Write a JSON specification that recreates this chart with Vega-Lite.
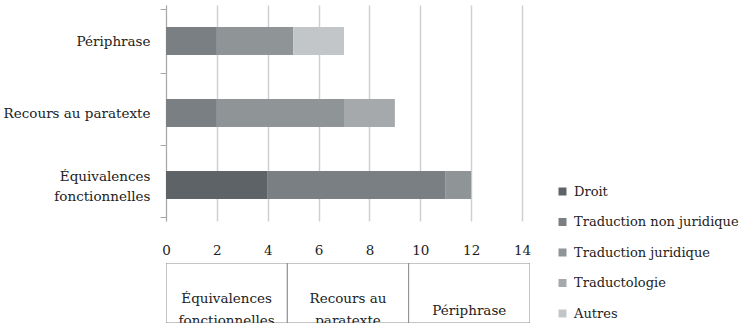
{
  "$schema": "https://vega.github.io/schema/vega-lite/v6.json",
  "background": "white",
  "padding": {"left": 0, "top": -2, "right": 0, "bottom": 0},
  "config": {"view": {"stroke": null}, "font": "DejaVu Serif"},
  "spacing": 6,
  "vconcat": [
    {
      "width": 356,
      "height": 216,
      "data": {
        "values": [
          {"categorie": "Périphrase", "source": "Traduction non juridique", "ordre": 2, "valeur": 2},
          {"categorie": "Périphrase", "source": "Traduction juridique", "ordre": 3, "valeur": 3},
          {"categorie": "Périphrase", "source": "Autres", "ordre": 5, "valeur": 2},
          {"categorie": "Recours au paratexte", "source": "Traduction non juridique", "ordre": 2, "valeur": 2},
          {"categorie": "Recours au paratexte", "source": "Traduction juridique", "ordre": 3, "valeur": 5},
          {"categorie": "Recours au paratexte", "source": "Traductologie", "ordre": 4, "valeur": 2},
          {"categorie": "Équivalences fonctionnelles", "source": "Droit", "ordre": 1, "valeur": 4},
          {"categorie": "Équivalences fonctionnelles", "source": "Traduction non juridique", "ordre": 2, "valeur": 7},
          {"categorie": "Équivalences fonctionnelles", "source": "Traduction juridique", "ordre": 3, "valeur": 1}
        ]
      },
      "mark": {"type": "bar", "size": 28},
      "encoding": {
        "y": {
          "field": "categorie",
          "type": "nominal",
          "sort": ["Périphrase", "Recours au paratexte", "Équivalences fonctionnelles"],
          "title": null,
          "axis": {
            "minExtent": 166,
            "maxExtent": 166,
            "labelFont": "DejaVu Serif",
            "labelFontSize": 13.5,
            "labelColor": "#222222",
            "labelPadding": 10,
            "labelLineHeight": 20,
            "labelExpr": "datum.label == 'Équivalences fonctionnelles' ? ['Équivalences', 'fonctionnelles'] : datum.label",
            "labelOffset": {"condition": {"test": "datum.label == 'Équivalences fonctionnelles'", "value": -9}, "value": 0},
            "tickBand": "extent",
            "tickSize": 6,
            "tickColor": "#a8a8a8",
            "domainColor": "#a8a8a8",
            "domainWidth": 1
          }
        },
        "x": {
          "field": "valeur",
          "type": "quantitative",
          "stack": "zero",
          "scale": {"domain": [0, 14], "nice": false},
          "title": null,
          "axis": {
            "values": [0, 2, 4, 6, 8, 10, 12, 14],
            "grid": true,
            "gridColor": "#cdd0d2",
            "gridWidth": 1.5,
            "domain": false,
            "ticks": false,
            "labelFlush": false,
            "labelFont": "DejaVu Serif",
            "labelFontSize": 13.5,
            "labelColor": "#222222",
            "labelPadding": 22
          }
        },
        "color": {
          "field": "source",
          "type": "nominal",
          "scale": {
            "domain": ["Droit", "Traduction non juridique", "Traduction juridique", "Traductologie", "Autres"],
            "range": ["#5e6367", "#7a7f83", "#8f9497", "#a5a9ac", "#c3c6c8"]
          },
          "legend": {
            "title": null,
            "orient": "none",
            "legendX": 390,
            "legendY": 180,
            "symbolType": "square",
            "symbolSize": 64,
            "symbolStrokeWidth": 0,
            "labelFont": "DejaVu Serif",
            "labelFontSize": 13,
            "labelLimit": 300,
            "labelColor": "#222222",
            "labelOffset": 5,
            "rowPadding": 16.5
          }
        },
        "order": {"field": "ordre", "type": "quantitative"}
      }
    },
    {
      "width": 364,
      "height": 60,
      "data": {
        "values": [
          {"categorie": "Équivalences fonctionnelles", "texte": "Équivalences|fonctionnelles", "lignes": 2},
          {"categorie": "Recours au paratexte", "texte": "Recours au|paratexte", "lignes": 2},
          {"categorie": "Périphrase", "texte": "Périphrase", "lignes": 1}
        ]
      },
      "encoding": {
        "x": {
          "field": "categorie",
          "type": "nominal",
          "sort": ["Équivalences fonctionnelles", "Recours au paratexte", "Périphrase"],
          "scale": {"paddingInner": 0, "paddingOuter": 0},
          "axis": null
        }
      },
      "layer": [
        {"mark": {"type": "rect", "fill": "white", "stroke": "#8c8c8c", "strokeWidth": 1, "clip": true}},
        {
          "transform": [{"filter": "datum.lignes == 2"}],
          "mark": {"type": "text", "font": "DejaVu Serif", "fontSize": 13.5, "color": "#222222", "lineBreak": "|", "lineHeight": 22, "dy": 6, "clip": true},
          "encoding": {"text": {"field": "texte", "type": "nominal"}}
        },
        {
          "transform": [{"filter": "datum.lignes == 1"}],
          "mark": {"type": "text", "font": "DejaVu Serif", "fontSize": 13.5, "color": "#222222", "dy": 18, "clip": true},
          "encoding": {"text": {"field": "texte", "type": "nominal"}}
        }
      ]
    }
  ]
}
